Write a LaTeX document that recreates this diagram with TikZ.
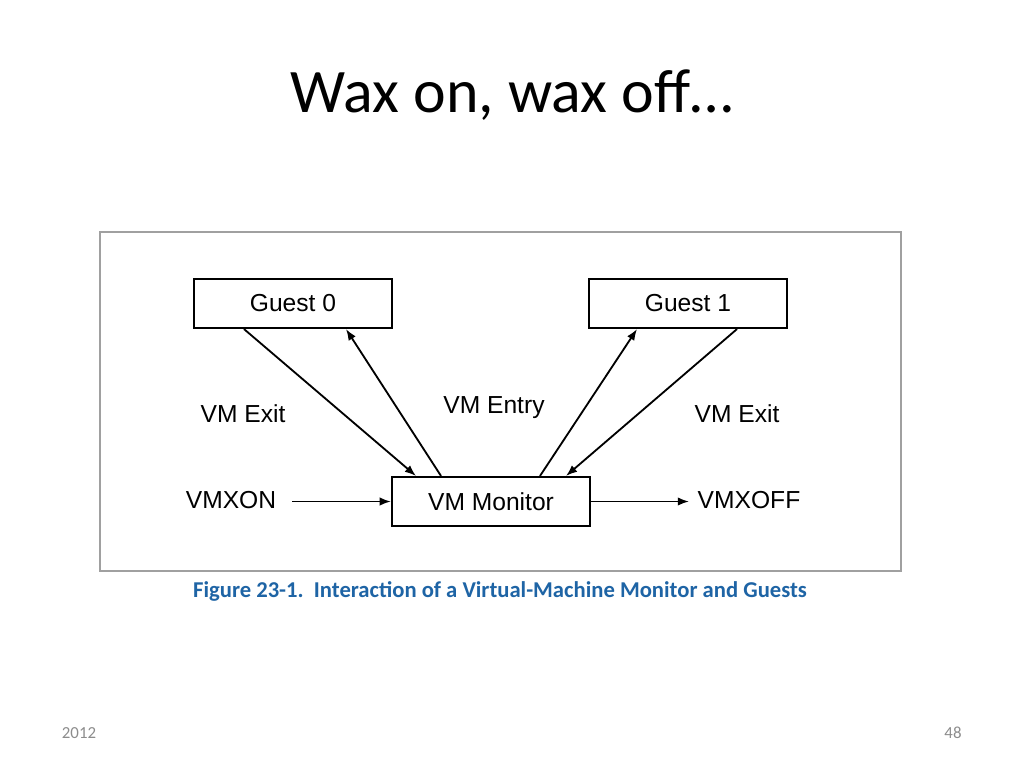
\documentclass[tikz,border=0pt]{standalone}
\usepackage{fontspec}
\setmainfont{Carlito}
\newfontfamily\arialfont{Liberation Sans}
\usetikzlibrary{calc, arrows.meta}
\definecolor{capblue}{RGB}{30,100,165}
\definecolor{framegray}{RGB}{160,160,160}
\definecolor{footgray}{RGB}{140,140,140}

\begin{document}
\begin{tikzpicture}[x=0.025cm, y=-0.025cm, -{Latex[length=8pt, width=6pt]}, semithick,
box/.style = { draw, line width = 1.5pt, minimum width = 4.95cm, minimum height = 1.225cm,
  inner sep = 0pt, font = \arialfont\fontsize{17.5}{20}\selectfont },
lbl/.style = { inner sep = 0pt, font = \arialfont\fontsize{17.5}{20}\selectfont },
arc_vm/.style = { color = black, line width = 1.3pt }]
\useasboundingbox (0,0) rectangle (1024,768);
\node[font = \fontsize{44}{50}\selectfont] (title) at (512,95) {Wax on, wax off…};
\draw[-, framegray, line width = 1pt] (100,232) rectangle (901,571);
\node[box] (g0) at (293,303.5) {Guest 0};
\node[box] (g1) at (688,303.5) {Guest 1};
\node[box] (mon) at (491,501.5) {VM Monitor};
\node[lbl] (exit0) at (243,414) {VM Exit};
\node[lbl] (entry) at (494,408) {VM Entry};
\node[lbl] (exit1) at (737,414) {VM Exit};
\node[lbl] (on) at (231,500) {VMXON};
\node[lbl] (off) at (749,500) {VMXOFF};
\coordinate (onstart) at (292,501.5);
\coordinate (offend) at (689,501.5);
\path[arc_vm] ($(g0.south)+(-49,0)$) edge ($(mon.north)+(-75,0)$);
\path[arc_vm] ($(mon.north)+(-50,0)$) edge ($(g0.south)+(53,0)$);
\path[arc_vm] ($(mon.north)+(49,0)$) edge ($(g1.south)+(-51,0)$);
\path[arc_vm] ($(g1.south)+(49,0)$) edge ($(mon.north)+(75,0)$);
\path[arc_vm] (onstart) edge (mon.west);
\path[arc_vm] (mon.east) edge (offend);
\node[text = capblue, font = \bfseries\fontsize{16.1}{18}\selectfont] (cap) at (500,591)
  {Figure 23-1.\ \ Interaction of a Virtual-Machine Monitor and Guests};
\node[text = footgray, font = \fontsize{12}{14}\selectfont] (year) at (79,733) {2012};
\node[text = footgray, font = \fontsize{12}{14}\selectfont] (page) at (953,733) {48};
\end{tikzpicture}
\end{document}
